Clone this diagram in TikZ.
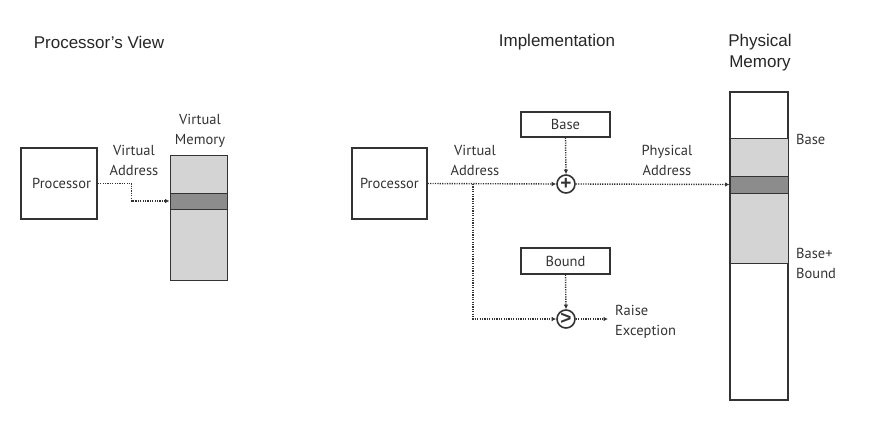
\documentclass[tikz,border=0pt]{standalone}
\usepackage{fontspec}
\setmainfont{Liberation Sans}
\newfontfamily\labelfont{PT Sans}
\usepackage{tikz}
\usetikzlibrary{arrows.meta,positioning}

\definecolor{lineclr}{HTML}{333333}
\definecolor{memlight}{HTML}{D4D4D4}
\definecolor{memdark}{HTML}{8C8C8C}

\begin{document}
\begin{tikzpicture}[
  x=1pt, y=-1pt,
  title/.style={font=\fontsize{17}{21}\selectfont, align=center, text=black!85},
  lbl/.style={font=\labelfont\fontsize{14.5}{20}\selectfont, align=center, text=black!80, inner sep=0pt},
  box/.style={draw=lineclr, line width=1.4pt, align=center, font=\labelfont\fontsize{14.5}{15}\selectfont, text=black!80, inner sep=0pt},
  memfill/.style={draw=lineclr, line width=1pt, fill=memlight, inner sep=0pt},
  band/.style={draw=lineclr, line width=1pt, fill=memdark, inner sep=0pt},
  op/.style={draw=lineclr, circle, line width=1.6pt, minimum size=18pt, inner sep=0pt, text=lineclr, font=\bfseries\fontsize{19}{19}\selectfont},
  arrow/.style={-{Latex[length=4.5pt,width=4.5pt]}, lineclr, line width=1.4pt, dash pattern=on 1.2pt off 1.2pt}
]
\useasboundingbox (0,0) rectangle (883,424);

% titles
\node[title] (tview) at (99,42) {Processor's View};
\node[title] (timpl) at (557,42) {Implementation};
\node[title] (tphys) at (760,53) {Physical\\Memory};

% processor's view
\node[box, minimum width=76pt, minimum height=71pt, text width=64pt, align=right] (procL) at (59,183.5) {Processor};
\node[memfill, minimum width=57pt, minimum height=125pt] (vmem) at (198.5,217.5) {};
\node[band, minimum width=57pt, minimum height=16pt] (vband) at (198.5,201) {};
\node[lbl] (vmemlbl) at (200,130.5) {Virtual\\Memory};
\node[lbl] (vaddrL) at (134,160) {Virtual\\Address};
\draw[arrow] (procL.east) -- ++(34,0) |- (vband.west);

% implementation
\node[box, minimum width=75pt, minimum height=71pt] (procR) at (389.5,183.5) {Processor};
\node[box, minimum width=89pt, minimum height=25pt] (base) at (565.5,124.5) {Base};
\node[box, minimum width=89pt, minimum height=26pt] (bound) at (565.5,261) {Bound};
\node[op] (plus) at (566,184) {+};
\node[op] (gt) at (566,319) {>};
\node[lbl] (vaddrR) at (475,160) {Virtual\\Address};
\node[lbl] (paddr) at (667,160) {Physical\\Address};
\node[lbl, align=left, anchor=west] (raise) at (615,322) {Raise\\Exception};
\coordinate (branch) at (473,184);
\coordinate (exc) at (608,319);

% physical memory
\node[draw=lineclr, line width=1.4pt, minimum width=58pt, minimum height=308pt, inner sep=0pt] (pmem) at (759,246) {};
\node[memfill, minimum width=58pt, minimum height=125pt] (pseg) at (759,200.5) {};
\node[band, minimum width=58pt, minimum height=17pt] (pband) at (759,184.5) {};
\draw[lineclr, line width=1.4pt] (pmem.south west) rectangle (pmem.north east);
\node[lbl, anchor=west] (baselbl) at (796,139) {Base};
\node[lbl, align=left, anchor=west] (boundlbl) at (796,263) {\fontsize{14.5}{16}\selectfont Base+\\Bound};

\draw[arrow] (procR.east) -- (plus.west);
\draw[arrow] (base.south) -- (plus.north);
\draw[arrow] (plus.east) -- (pband.west);
\draw[arrow] (branch) |- (gt.west);
\draw[arrow] (bound.south) -- (gt.north);
\draw[arrow] (gt.east) -- (exc);
\end{tikzpicture}
\end{document}
